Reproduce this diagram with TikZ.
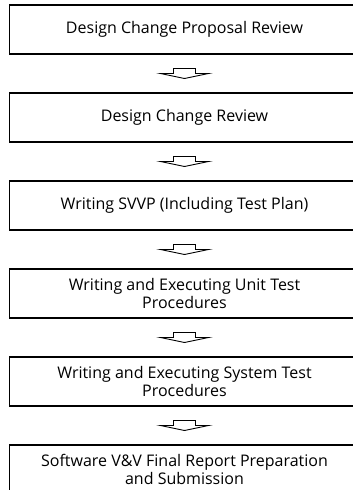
\documentclass[tikz,border=0pt]{standalone}
\usepackage{fontspec}
\setmainfont{Open Sans}
\usetikzlibrary{calc}

\tikzset{
  stage/.style={draw, line width=1.2pt, minimum width=349.5pt, minimum height=49pt,
    inner sep=0pt, align=center, font=\fontsize{16}{18}\selectfont},
  flow/.style={draw, line width=0.9pt, line join=miter},
}
% hollow block arrow halfway between two stages
\newcommand{\flowarrow}[2]{%
  \draw[flow] ($(#1.south)!0.5!(#2.north)$) ++(-11,-5) -- ++(22,0) -- ++(0,5)
    -- ++(13,0) -- ++(-24,5) -- ++(-24,-5) -- ++(13,0) -- cycle;
}

\begin{document}
\begin{tikzpicture}[x=1pt,y=-1pt]
\clip (0,0) rectangle (353,490);

\node[stage] (dcpr) at (184.5,29.5) {Design Change Proposal Review};
\node[stage] (dcr) at (184.5,117.5) {Design Change Review};
\node[stage] (svvp) at (184.5,205.5) {Writing SVVP (Including Test Plan)};
\node[stage] (utp) at (184.5,293.5) {Writing and Executing Unit Test\\Procedures};
\node[stage] (stp) at (184.5,381.5) {Writing and Executing System Test\\Procedures};
\node[stage] (vvrep) at (184.5,469.5) {Software V\&V Final Report Preparation\\and Submission};

\flowarrow{dcpr}{dcr}
\flowarrow{dcr}{svvp}
\flowarrow{svvp}{utp}
\flowarrow{utp}{stp}
\flowarrow{stp}{vvrep}
\end{tikzpicture}
\end{document}
